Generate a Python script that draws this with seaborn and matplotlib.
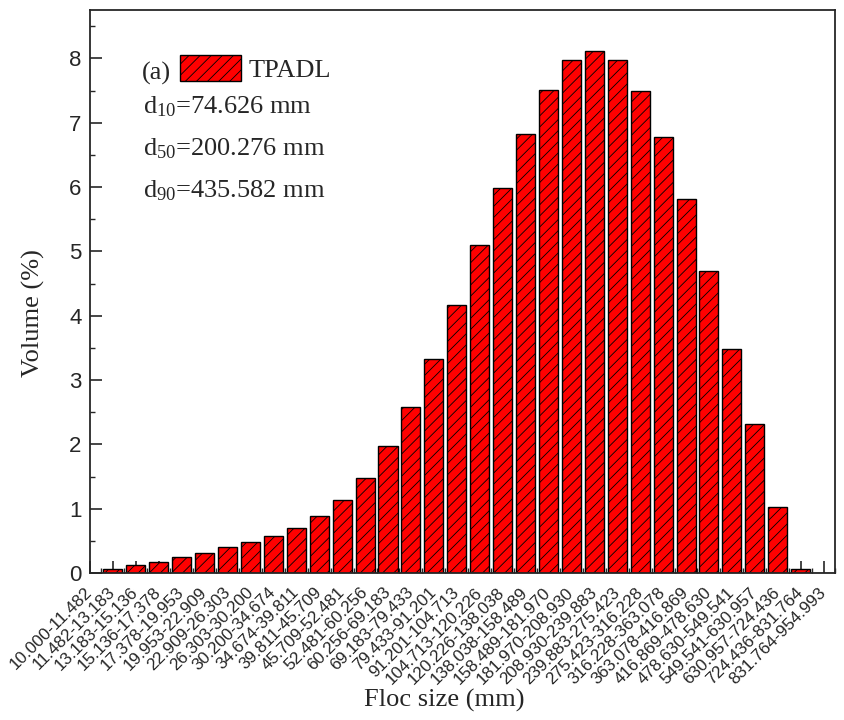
# floc size distribution bar chart
import numpy as np
import pandas as pd
import matplotlib
matplotlib.use("Agg")
import matplotlib.pyplot as plt
import matplotlib.transforms as mtransforms
from matplotlib.patches import Patch
import seaborn as sns

# size classes (mm) and volume fraction (%)
size_bins = [
    "10.000-11.482", "11.482-13.183", "13.183-15.136", "15.136-17.378",
    "17.378-19.953", "19.953-22.909", "22.909-26.303", "26.303-30.200",
    "30.200-34.674", "34.674-39.811", "39.811-45.709", "45.709-52.481",
    "52.481-60.256", "60.256-69.183", "69.183-79.433", "79.433-91.201",
    "91.201-104.713", "104.713-120.226", "120.226-138.038", "138.038-158.489",
    "158.489-181.970", "181.970-208.930", "208.930-239.883", "239.883-275.423",
    "275.423-316.228", "316.228-363.078", "363.078-416.869", "416.869-478.630",
    "478.630-549.541", "549.541-630.957", "630.957-724.436", "724.436-831.764",
    "831.764-954.993",
]
volume = [
    0.0, 0.07, 0.12, 0.18, 0.25, 0.32, 0.40, 0.48, 0.58, 0.70, 0.88,
    1.13, 1.48, 1.97, 2.58, 3.32, 4.17, 5.10, 5.99, 6.83, 7.51,
    7.97, 8.12, 7.97, 7.50, 6.78, 5.81, 4.70, 3.49, 2.32, 1.02,
    0.07, 0.0,
]
stats_lines = [r"d$_{10}$=74.626 mm", r"d$_{50}$=200.276 mm", r"d$_{90}$=435.582 mm"]

sns.set_style("ticks")
plt.rcParams["font.family"] = ["Liberation Sans", "DejaVu Sans"]
plt.rcParams["hatch.color"] = "black"
plt.rcParams["hatch.linewidth"] = 0.6
plt.rcParams["mathtext.default"] = "regular"
serif = ["Liberation Serif", "DejaVu Serif"]

fig = plt.figure(figsize=(8.45, 7.2), dpi=100)
ax = fig.add_axes([0.1065, 0.204, 0.8817, 0.782])

df = pd.DataFrame({"bin": size_bins, "volume": volume})
sns.barplot(data=df, x="bin", y="volume", order=size_bins, color="red",
            saturation=1, edgecolor="black", linewidth=1.0, hatch="///",
            width=0.83, errorbar=None, ax=ax)

ax.set_xlim(0, 31.5)
ax.set_ylim(0, 8.75)
ax.set_xticks(range(len(size_bins)))
ax.set_xticks(np.arange(0.5, len(size_bins), 1), minor=True)
ax.set_yticks(range(9))
ax.set_yticks(np.arange(0.5, 8.75, 1), minor=True)
ax.tick_params(which="major", direction="in", length=8.4, width=1.2)
ax.tick_params(which="minor", direction="in", length=3.8, width=1.0)
ax.tick_params(axis="x", labelbottom=False)
ax.tick_params(axis="y", labelsize=16, pad=6)
for s in ax.spines.values():
    s.set_linewidth(1.3)
    s.set_visible(True)

# rotated category labels
trans = mtransforms.blended_transform_factory(ax.transData, ax.transAxes)
for i, lab in enumerate(size_bins):
    ax.text(i, -0.03, lab, transform=trans, rotation=45, ha="right",
            va="center", rotation_mode="anchor", fontsize=12.3, clip_on=False)

ax.set_xlabel("Floc size (mm)", fontsize=19, family=serif)
ax.set_ylabel("Volume (%)", fontsize=19, family=serif)
ax.xaxis.set_label_coords(0.475, -0.206)
ax.yaxis.set_label_coords(-0.060, 0.461)

# legend and stats
ax.text(0.070, 0.876, "(a)", transform=ax.transAxes, fontsize=19,
        family=serif, va="baseline")
handle = Patch(facecolor="red", edgecolor="black", hatch="///", linewidth=1.0)
ax.legend(handles=[handle], labels=["TPADL"], loc="upper left",
          bbox_to_anchor=(0.121, 0.920), frameon=False, borderpad=0,
          borderaxespad=0, handlelength=2.3, handleheight=1.13,
          handletextpad=0.3, prop={"family": serif, "size": 19})
for y, line in zip([0.817, 0.742, 0.668], stats_lines):
    ax.text(0.071, y, line, transform=ax.transAxes, fontsize=19,
            family=serif, va="baseline")

fig.savefig("out.png", dpi=100)
